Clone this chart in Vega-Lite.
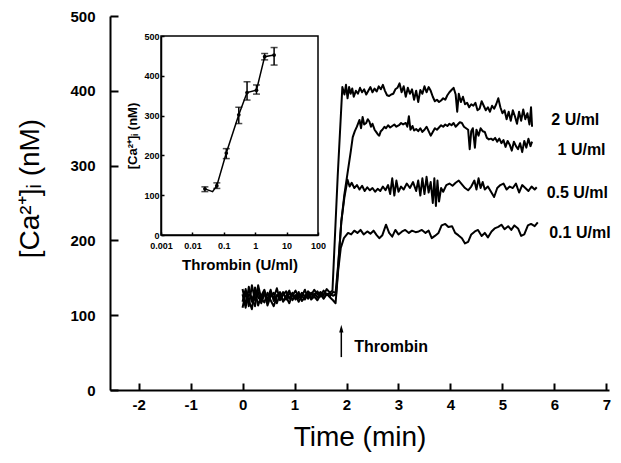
{
"$schema": "https://vega.github.io/schema/vega-lite/v6.json",
"width": 499, "height": 374,
"autosize": "none",
"padding": {"left": 110, "top": 16, "right": 12, "bottom": 73},
"background": "white",
"config": {"view": {"stroke": null}, "font": "Liberation Sans",
  "axis": {"grid": false, "domainColor": "black", "tickColor": "black", "labelColor": "black", "titleColor": "black"}},
"datasets": {
"traces": [
{"s":"A","t":0,"v":118},{"s":"A","t":0.06,"v":135},{"s":"A","t":0.12,"v":112},{"s":"A","t":0.18,"v":140},{"s":"A","t":0.24,"v":120},{"s":"A","t":0.30,"v":131},{"s":"A","t":0.36,"v":116},{"s":"A","t":0.42,"v":128},{"s":"A","t":0.48,"v":122},{"s":"A","t":0.54,"v":134},{"s":"A","t":0.60,"v":119},{"s":"A","t":0.66,"v":127},{"s":"A","t":0.72,"v":124},{"s":"A","t":0.78,"v":131},{"s":"A","t":0.84,"v":121},{"s":"A","t":0.90,"v":129},{"s":"A","t":0.96,"v":126},{"s":"A","t":1.02,"v":133},{"s":"A","t":1.08,"v":123},{"s":"A","t":1.14,"v":130},{"s":"A","t":1.20,"v":125},{"s":"A","t":1.26,"v":132},{"s":"A","t":1.32,"v":127},{"s":"A","t":1.38,"v":134},{"s":"A","t":1.44,"v":128},{"s":"A","t":1.50,"v":131},{"s":"A","t":1.56,"v":127},{"s":"A","t":1.62,"v":135},{"s":"A","t":1.68,"v":130},{"s":"A","t":1.73,"v":133},{"s":"A","t":1.83,"v":285},{"s":"A","t":1.92,"v":405},
{"s":"A","t":1.96,"v":395},{"s":"A","t":1.99,"v":408},{"s":"A","t":2.02,"v":390},{"s":"A","t":2.05,"v":405},{"s":"A","t":2.08,"v":396},{"s":"A","t":2.11,"v":403},{"s":"A","t":2.14,"v":392},{"s":"A","t":2.18,"v":400},{"s":"A","t":2.22,"v":396},{"s":"A","t":2.26,"v":404},{"s":"A","t":2.30,"v":398},{"s":"A","t":2.34,"v":402},{"s":"A","t":2.38,"v":395},{"s":"A","t":2.42,"v":400},{"s":"A","t":2.46,"v":405},{"s":"A","t":2.50,"v":398},{"s":"A","t":2.54,"v":403},{"s":"A","t":2.58,"v":399},{"s":"A","t":2.62,"v":406},{"s":"A","t":2.66,"v":402},{"s":"A","t":2.70,"v":408},{"s":"A","t":2.74,"v":400},{"s":"A","t":2.78,"v":394},{"s":"A","t":2.82,"v":393},{"s":"A","t":2.86,"v":395},{"s":"A","t":2.90,"v":396},{"s":"A","t":2.94,"v":402},{"s":"A","t":2.98,"v":404},{"s":"A","t":3.02,"v":410},{"s":"A","t":3.06,"v":398},{"s":"A","t":3.10,"v":406},{"s":"A","t":3.14,"v":392},{"s":"A","t":3.18,"v":404},{"s":"A","t":3.22,"v":396},{"s":"A","t":3.26,"v":402},{"s":"A","t":3.30,"v":388},{"s":"A","t":3.34,"v":400},{"s":"A","t":3.38,"v":385},{"s":"A","t":3.42,"v":401},{"s":"A","t":3.46,"v":396},{"s":"A","t":3.50,"v":406},{"s":"A","t":3.54,"v":398},{"s":"A","t":3.58,"v":405},{"s":"A","t":3.62,"v":400},{"s":"A","t":3.66,"v":392},{"s":"A","t":3.70,"v":386},{"s":"A","t":3.74,"v":388},{"s":"A","t":3.78,"v":385},{"s":"A","t":3.82,"v":387},{"s":"A","t":3.86,"v":390},{"s":"A","t":3.90,"v":388},{"s":"A","t":3.94,"v":394},{"s":"A","t":3.98,"v":398},{"s":"A","t":4.02,"v":401},{"s":"A","t":4.06,"v":404},{"s":"A","t":4.10,"v":395},{"s":"A","t":4.13,"v":372},{"s":"A","t":4.16,"v":396},{"s":"A","t":4.20,"v":385},{"s":"A","t":4.24,"v":392},{"s":"A","t":4.28,"v":382},{"s":"A","t":4.32,"v":384},{"s":"A","t":4.36,"v":378},{"s":"A","t":4.40,"v":382},{"s":"A","t":4.44,"v":380},{"s":"A","t":4.48,"v":384},{"s":"A","t":4.52,"v":374},{"s":"A","t":4.56,"v":376},{"s":"A","t":4.60,"v":386},{"s":"A","t":4.64,"v":380},{"s":"A","t":4.68,"v":374},{"s":"A","t":4.72,"v":378},{"s":"A","t":4.76,"v":372},{"s":"A","t":4.80,"v":380},{"s":"A","t":4.84,"v":376},{"s":"A","t":4.88,"v":382},{"s":"A","t":4.92,"v":390},{"s":"A","t":4.96,"v":378},{"s":"A","t":5.00,"v":370},{"s":"A","t":5.04,"v":374},{"s":"A","t":5.08,"v":362},{"s":"A","t":5.12,"v":372},{"s":"A","t":5.16,"v":360},{"s":"A","t":5.20,"v":374},{"s":"A","t":5.24,"v":366},{"s":"A","t":5.28,"v":356},{"s":"A","t":5.32,"v":372},{"s":"A","t":5.36,"v":360},{"s":"A","t":5.40,"v":375},{"s":"A","t":5.44,"v":362},{"s":"A","t":5.48,"v":370},{"s":"A","t":5.52,"v":355},{"s":"A","t":5.55,"v":378},{"s":"A","t":5.57,"v":352},
{"s":"B","t":0,"v":128},{"s":"B","t":0.06,"v":110},{"s":"B","t":0.12,"v":138},{"s":"B","t":0.18,"v":118},{"s":"B","t":0.24,"v":133},{"s":"B","t":0.30,"v":113},{"s":"B","t":0.36,"v":126},{"s":"B","t":0.42,"v":134},{"s":"B","t":0.48,"v":117},{"s":"B","t":0.54,"v":129},{"s":"B","t":0.60,"v":123},{"s":"B","t":0.66,"v":136},{"s":"B","t":0.72,"v":120},{"s":"B","t":0.78,"v":127},{"s":"B","t":0.84,"v":132},{"s":"B","t":0.90,"v":122},{"s":"B","t":0.96,"v":130},{"s":"B","t":1.02,"v":121},{"s":"B","t":1.08,"v":128},{"s":"B","t":1.14,"v":125},{"s":"B","t":1.20,"v":134},{"s":"B","t":1.26,"v":122},{"s":"B","t":1.32,"v":130},{"s":"B","t":1.38,"v":126},{"s":"B","t":1.44,"v":132},{"s":"B","t":1.50,"v":125},{"s":"B","t":1.56,"v":133},{"s":"B","t":1.62,"v":127},{"s":"B","t":1.68,"v":129},{"s":"B","t":1.74,"v":126},{"s":"B","t":1.80,"v":128},{"s":"B","t":1.84,"v":165},{"s":"B","t":1.90,"v":225},{"s":"B","t":1.96,"v":262},{"s":"B","t":2.02,"v":290},{"s":"B","t":2.08,"v":318},{"s":"B","t":2.12,"v":338},{"s":"B","t":2.16,"v":346},{"s":"B","t":2.20,"v":352},
{"s":"B","t":2.25,"v":361},{"s":"B","t":2.28,"v":350},{"s":"B","t":2.31,"v":365},{"s":"B","t":2.34,"v":355},{"s":"B","t":2.38,"v":357},{"s":"B","t":2.41,"v":362},{"s":"B","t":2.44,"v":359},{"s":"B","t":2.47,"v":352},{"s":"B","t":2.50,"v":356},{"s":"B","t":2.54,"v":348},{"s":"B","t":2.57,"v":345},{"s":"B","t":2.60,"v":342},{"s":"B","t":2.63,"v":340},{"s":"B","t":2.66,"v":346},{"s":"B","t":2.69,"v":348},{"s":"B","t":2.73,"v":352},{"s":"B","t":2.76,"v":350},{"s":"B","t":2.80,"v":354},{"s":"B","t":2.84,"v":351},{"s":"B","t":2.88,"v":353},{"s":"B","t":2.92,"v":355},{"s":"B","t":2.96,"v":352},{"s":"B","t":3.01,"v":354},{"s":"B","t":3.05,"v":357},{"s":"B","t":3.09,"v":355},{"s":"B","t":3.14,"v":357},{"s":"B","t":3.17,"v":352},{"s":"B","t":3.20,"v":366},{"s":"B","t":3.23,"v":348},{"s":"B","t":3.27,"v":353},{"s":"B","t":3.30,"v":347},{"s":"B","t":3.34,"v":349},{"s":"B","t":3.38,"v":346},{"s":"B","t":3.42,"v":350},{"s":"B","t":3.46,"v":345},{"s":"B","t":3.50,"v":348},{"s":"B","t":3.54,"v":352},{"s":"B","t":3.58,"v":346},{"s":"B","t":3.62,"v":340},{"s":"B","t":3.66,"v":345},{"s":"B","t":3.70,"v":350},{"s":"B","t":3.74,"v":348},{"s":"B","t":3.78,"v":351},{"s":"B","t":3.82,"v":354},{"s":"B","t":3.86,"v":352},{"s":"B","t":3.90,"v":355},{"s":"B","t":3.94,"v":353},{"s":"B","t":3.98,"v":356},{"s":"B","t":4.02,"v":354},{"s":"B","t":4.06,"v":357},{"s":"B","t":4.10,"v":352},{"s":"B","t":4.14,"v":355},{"s":"B","t":4.18,"v":358},{"s":"B","t":4.22,"v":357},{"s":"B","t":4.26,"v":352},{"s":"B","t":4.30,"v":350},{"s":"B","t":4.34,"v":348},{"s":"B","t":4.37,"v":322},{"s":"B","t":4.40,"v":346},{"s":"B","t":4.43,"v":350},{"s":"B","t":4.47,"v":324},{"s":"B","t":4.50,"v":348},{"s":"B","t":4.54,"v":340},{"s":"B","t":4.58,"v":350},{"s":"B","t":4.62,"v":346},{"s":"B","t":4.66,"v":345},{"s":"B","t":4.70,"v":337},{"s":"B","t":4.74,"v":335},{"s":"B","t":4.78,"v":336},{"s":"B","t":4.82,"v":334},{"s":"B","t":4.86,"v":337},{"s":"B","t":4.90,"v":332},{"s":"B","t":4.94,"v":336},{"s":"B","t":4.98,"v":330},{"s":"B","t":5.02,"v":334},{"s":"B","t":5.06,"v":325},{"s":"B","t":5.10,"v":333},{"s":"B","t":5.14,"v":328},{"s":"B","t":5.18,"v":320},{"s":"B","t":5.22,"v":332},{"s":"B","t":5.26,"v":326},{"s":"B","t":5.30,"v":322},{"s":"B","t":5.34,"v":330},{"s":"B","t":5.38,"v":318},{"s":"B","t":5.42,"v":333},{"s":"B","t":5.46,"v":324},{"s":"B","t":5.50,"v":336},{"s":"B","t":5.54,"v":326},{"s":"B","t":5.57,"v":332},
{"s":"C","t":0,"v":110},{"s":"C","t":0.06,"v":130},{"s":"C","t":0.12,"v":120},{"s":"C","t":0.18,"v":108},{"s":"C","t":0.24,"v":137},{"s":"C","t":0.30,"v":124},{"s":"C","t":0.36,"v":119},{"s":"C","t":0.42,"v":132},{"s":"C","t":0.48,"v":113},{"s":"C","t":0.54,"v":125},{"s":"C","t":0.60,"v":130},{"s":"C","t":0.66,"v":116},{"s":"C","t":0.72,"v":128},{"s":"C","t":0.78,"v":119},{"s":"C","t":0.84,"v":126},{"s":"C","t":0.90,"v":133},{"s":"C","t":0.96,"v":120},{"s":"C","t":1.02,"v":127},{"s":"C","t":1.08,"v":118},{"s":"C","t":1.14,"v":126},{"s":"C","t":1.20,"v":121},{"s":"C","t":1.26,"v":128},{"s":"C","t":1.32,"v":123},{"s":"C","t":1.38,"v":129},{"s":"C","t":1.44,"v":124},{"s":"C","t":1.50,"v":130},{"s":"C","t":1.56,"v":122},{"s":"C","t":1.62,"v":128},{"s":"C","t":1.68,"v":125},{"s":"C","t":1.74,"v":131},{"s":"C","t":1.79,"v":130},{"s":"C","t":1.84,"v":168},{"s":"C","t":1.90,"v":225},{"s":"C","t":1.96,"v":258},
{"s":"C","t":2.02,"v":281},{"s":"C","t":2.06,"v":272},{"s":"C","t":2.10,"v":277},{"s":"C","t":2.15,"v":270},{"s":"C","t":2.20,"v":274},{"s":"C","t":2.25,"v":268},{"s":"C","t":2.30,"v":273},{"s":"C","t":2.35,"v":266},{"s":"C","t":2.40,"v":271},{"s":"C","t":2.45,"v":267},{"s":"C","t":2.50,"v":270},{"s":"C","t":2.55,"v":265},{"s":"C","t":2.60,"v":269},{"s":"C","t":2.65,"v":266},{"s":"C","t":2.70,"v":272},{"s":"C","t":2.75,"v":267},{"s":"C","t":2.80,"v":274},{"s":"C","t":2.84,"v":262},{"s":"C","t":2.88,"v":283},{"s":"C","t":2.92,"v":260},{"s":"C","t":2.96,"v":280},{"s":"C","t":3.00,"v":265},{"s":"C","t":3.05,"v":272},{"s":"C","t":3.10,"v":268},{"s":"C","t":3.16,"v":276},{"s":"C","t":3.22,"v":270},{"s":"C","t":3.28,"v":278},{"s":"C","t":3.34,"v":266},{"s":"C","t":3.38,"v":280},{"s":"C","t":3.42,"v":260},{"s":"C","t":3.46,"v":283},{"s":"C","t":3.50,"v":262},{"s":"C","t":3.54,"v":285},{"s":"C","t":3.58,"v":264},{"s":"C","t":3.62,"v":278},{"s":"C","t":3.66,"v":250},{"s":"C","t":3.69,"v":283},{"s":"C","t":3.72,"v":246},{"s":"C","t":3.75,"v":280},{"s":"C","t":3.78,"v":252},{"s":"C","t":3.82,"v":270},{"s":"C","t":3.86,"v":265},{"s":"C","t":3.92,"v":274},{"s":"C","t":3.98,"v":276},{"s":"C","t":4.04,"v":273},{"s":"C","t":4.10,"v":277},{"s":"C","t":4.16,"v":280},{"s":"C","t":4.22,"v":275},{"s":"C","t":4.28,"v":270},{"s":"C","t":4.34,"v":267},{"s":"C","t":4.40,"v":272},{"s":"C","t":4.46,"v":280},{"s":"C","t":4.50,"v":268},{"s":"C","t":4.54,"v":283},{"s":"C","t":4.58,"v":270},{"s":"C","t":4.62,"v":278},{"s":"C","t":4.66,"v":268},{"s":"C","t":4.72,"v":272},{"s":"C","t":4.78,"v":265},{"s":"C","t":4.84,"v":258},{"s":"C","t":4.90,"v":270},{"s":"C","t":4.96,"v":274},{"s":"C","t":5.02,"v":276},{"s":"C","t":5.08,"v":268},{"s":"C","t":5.14,"v":272},{"s":"C","t":5.20,"v":270},{"s":"C","t":5.26,"v":276},{"s":"C","t":5.32,"v":264},{"s":"C","t":5.38,"v":274},{"s":"C","t":5.44,"v":270},{"s":"C","t":5.50,"v":266},{"s":"C","t":5.56,"v":272},{"s":"C","t":5.62,"v":268},{"s":"C","t":5.66,"v":271},
{"s":"D","t":0,"v":135},{"s":"D","t":0.06,"v":115},{"s":"D","t":0.12,"v":128},{"s":"D","t":0.18,"v":124},{"s":"D","t":0.24,"v":112},{"s":"D","t":0.30,"v":140},{"s":"D","t":0.36,"v":122},{"s":"D","t":0.42,"v":117},{"s":"D","t":0.48,"v":130},{"s":"D","t":0.54,"v":120},{"s":"D","t":0.60,"v":112},{"s":"D","t":0.66,"v":125},{"s":"D","t":0.72,"v":131},{"s":"D","t":0.78,"v":118},{"s":"D","t":0.84,"v":124},{"s":"D","t":0.90,"v":116},{"s":"D","t":0.96,"v":128},{"s":"D","t":1.02,"v":122},{"s":"D","t":1.08,"v":131},{"s":"D","t":1.14,"v":119},{"s":"D","t":1.20,"v":124},{"s":"D","t":1.26,"v":129},{"s":"D","t":1.32,"v":121},{"s":"D","t":1.38,"v":125},{"s":"D","t":1.44,"v":120},{"s":"D","t":1.50,"v":127},{"s":"D","t":1.56,"v":123},{"s":"D","t":1.62,"v":129},{"s":"D","t":1.68,"v":124},{"s":"D","t":1.74,"v":120},{"s":"D","t":1.79,"v":116},{"s":"D","t":1.84,"v":160},{"s":"D","t":1.89,"v":190},{"s":"D","t":1.95,"v":203},{"s":"D","t":2.03,"v":210},
{"s":"D","t":2.09,"v":208},{"s":"D","t":2.15,"v":213},{"s":"D","t":2.21,"v":210},{"s":"D","t":2.27,"v":214},{"s":"D","t":2.33,"v":208},{"s":"D","t":2.40,"v":212},{"s":"D","t":2.46,"v":209},{"s":"D","t":2.52,"v":213},{"s":"D","t":2.58,"v":207},{"s":"D","t":2.63,"v":203},{"s":"D","t":2.69,"v":207},{"s":"D","t":2.76,"v":221},{"s":"D","t":2.82,"v":210},{"s":"D","t":2.88,"v":205},{"s":"D","t":2.94,"v":214},{"s":"D","t":3.00,"v":208},{"s":"D","t":3.07,"v":212},{"s":"D","t":3.13,"v":214},{"s":"D","t":3.20,"v":210},{"s":"D","t":3.26,"v":213},{"s":"D","t":3.33,"v":211},{"s":"D","t":3.39,"v":212},{"s":"D","t":3.45,"v":214},{"s":"D","t":3.52,"v":210},{"s":"D","t":3.58,"v":213},{"s":"D","t":3.64,"v":203},{"s":"D","t":3.70,"v":206},{"s":"D","t":3.77,"v":210},{"s":"D","t":3.83,"v":220},{"s":"D","t":3.90,"v":222},{"s":"D","t":3.96,"v":218},{"s":"D","t":4.03,"v":219},{"s":"D","t":4.09,"v":210},{"s":"D","t":4.15,"v":207},{"s":"D","t":4.22,"v":203},{"s":"D","t":4.28,"v":196},{"s":"D","t":4.34,"v":198},{"s":"D","t":4.40,"v":208},{"s":"D","t":4.47,"v":212},{"s":"D","t":4.53,"v":214},{"s":"D","t":4.60,"v":206},{"s":"D","t":4.66,"v":210},{"s":"D","t":4.72,"v":204},{"s":"D","t":4.79,"v":212},{"s":"D","t":4.85,"v":216},{"s":"D","t":4.92,"v":218},{"s":"D","t":4.98,"v":221},{"s":"D","t":5.04,"v":215},{"s":"D","t":5.11,"v":219},{"s":"D","t":5.17,"v":214},{"s":"D","t":5.23,"v":220},{"s":"D","t":5.30,"v":216},{"s":"D","t":5.36,"v":206},{"s":"D","t":5.42,"v":208},{"s":"D","t":5.49,"v":220},{"s":"D","t":5.55,"v":222},{"s":"D","t":5.62,"v":219},{"s":"D","t":5.68,"v":224}
],
"labels": [
{"lab":"2 U/ml","t":5.94,"v":361},
{"lab":"1 U/ml","t":6.06,"v":321},
{"lab":"0.5 U/ml","t":5.85,"v":263},
{"lab":"0.1 U/ml","t":5.9,"v":210}
],
"arrow": [{"t":1.9,"v":44,"v2":82,"lab":"Thrombin","tt":2.15,"tv":58}],
"insetline": [
{"dose":0.025,"ca":116},{"dose":0.044,"ca":109},{"dose":0.06,"ca":124},{"dose":0.12,"ca":206},{"dose":0.3,"ca":302},{"dose":0.55,"ca":358},{"dose":1.1,"ca":364},{"dose":2,"ca":448},{"dose":4,"ca":452}
],
"insetpts": [
{"dose":0.025,"ca":116,"lo":109,"hi":121},
{"dose":0.06,"ca":124,"lo":117,"hi":131},
{"dose":0.12,"ca":206,"lo":192,"hi":217},
{"dose":0.3,"ca":302,"lo":280,"hi":321},
{"dose":0.55,"ca":358,"lo":339,"hi":385},
{"dose":1.1,"ca":364,"lo":354,"hi":377},
{"dose":2,"ca":448,"lo":440,"hi":456},
{"dose":4,"ca":452,"lo":427,"hi":471}
]
},
"layer": [
{
"layer": [
{
"data": {"name": "traces"},
"mark": {"type": "line", "color": "black", "strokeWidth": 2, "strokeJoin": "round"},
"encoding": {
"x": {"field": "t", "type": "quantitative", "scale": {"domain": [-2.55, 7.05], "nice": false, "zero": false},
  "axis": {"title": "Time (min)", "orient": "bottom", "values": [-2,-1.5,-1,-0.5,0,0.5,1,1.5,2,2.5,3,3.5,4,4.5,5,5.5,6,6.5,7],
    "labelExpr": "datum.value % 1 === 0 ? '' + datum.value : ''",
    "tickSize": {"condition": {"test": "datum.value % 1 === 0", "value": -7}, "value": -4},
    "tickWidth": 2, "domainWidth": 2, "labelFontSize": 15, "labelFontWeight": "bold", "labelPadding": 14,
    "titleFontSize": 28, "titleFontWeight": "normal", "titlePadding": 11}},
"y": {"field": "v", "type": "quantitative", "scale": {"domain": [0, 500], "nice": false},
  "axis": {"title": "[Ca²⁺]ᵢ  (nM)", "orient": "left", "values": [0,50,100,150,200,250,300,350,400,450,500],
    "labelExpr": "datum.value % 100 === 0 ? '' + datum.value : ''",
    "tickSize": {"condition": {"test": "datum.value % 100 === 0", "value": -8}, "value": -5},
    "tickWidth": 2, "domainWidth": 2, "labelFontSize": 15, "labelFontWeight": "bold", "labelPadding": 23,
    "titleFontSize": 28, "titleFontWeight": "normal", "titleX": -66, "titleY": 172}},
"detail": {"field": "s"}
}
},
{
"data": {"name": "labels"},
"mark": {"type": "text", "align": "left", "baseline": "middle", "fontSize": 16, "fontWeight": "bold", "color": "black"},
"encoding": {"x": {"field": "t", "type": "quantitative"}, "y": {"field": "v", "type": "quantitative"}, "text": {"field": "lab"}}
},
{
"data": {"name": "arrow"},
"mark": {"type": "rule", "color": "black", "strokeWidth": 1.5},
"encoding": {"x": {"field": "t", "type": "quantitative"}, "y": {"field": "v", "type": "quantitative"}, "y2": {"field": "v2"}}
},
{
"data": {"name": "arrow"},
"mark": {"type": "point", "shape": "M0,-1L0.55,1L-0.55,1Z", "filled": true, "color": "black", "opacity": 1, "size": 60},
"encoding": {"x": {"field": "t", "type": "quantitative"}, "y": {"field": "v2", "type": "quantitative"}}
},
{
"data": {"name": "arrow"},
"mark": {"type": "text", "align": "left", "baseline": "middle", "fontSize": 16, "fontWeight": "bold", "color": "black"},
"encoding": {"x": {"field": "tt", "type": "quantitative"}, "y": {"field": "tv", "type": "quantitative"}, "text": {"field": "lab"}}
}
]
},
{
"layer": [
{
"data": {"name": "insetline"},
"mark": {"type": "line", "color": "black", "strokeWidth": 1.5},
"encoding": {
"x": {"field": "dose", "type": "quantitative", "title": "Thrombin (U/ml)", "scale": {"type": "log", "domain": [0.001, 100], "range": [51, 208], "nice": false},
  "axis": {"title": "Thrombin (U/ml)", "orient": "bottom", "offset": -155, "values": [0.001,0.01,0.1,1,10,100],
    "labelExpr": "'' + datum.value", "tickSize": -3, "tickWidth": 1.5, "domainWidth": 1.5,
    "labelFontSize": 9, "labelFontWeight": "bold", "labelPadding": 9, "labelFlush": false,
    "titleFontSize": 15, "titleFontWeight": "bold", "titlePadding": 7}},
"y": {"field": "ca", "type": "quantitative", "title": "[Ca²⁺]ᵢ (nM)", "scale": {"domain": [0, 500], "range": [219, 20], "nice": false},
  "axis": {"title": "[Ca²⁺]ᵢ (nM)", "orient": "left", "offset": -51, "values": [0,100,200,300,400,500],
    "tickSize": -3, "tickWidth": 1.5, "domainWidth": 1.5,
    "labelFontSize": 9, "labelFontWeight": "bold", "labelPadding": 5,
    "titleFontSize": 13, "titleFontWeight": "bold", "titlePadding": 4}}
}
},
{
"data": {"name": "insetpts"},
"mark": {"type": "errorbar", "ticks": {"size": 7}, "thickness": 1.5, "color": "black"},
"encoding": {"x": {"field": "dose", "type": "quantitative", "title": "Thrombin (U/ml)"}, "y": {"field": "lo", "type": "quantitative", "title": "[Ca²⁺]ᵢ (nM)"}, "y2": {"field": "hi"}}
},
{
"data": {"name": "insetpts"},
"mark": {"type": "point", "filled": true, "color": "black", "opacity": 1, "size": 14},
"encoding": {"x": {"field": "dose", "type": "quantitative", "title": "Thrombin (U/ml)"}, "y": {"field": "ca", "type": "quantitative", "title": "[Ca²⁺]ᵢ (nM)"}}
},
{
"data": {"values": [{}]},
"mark": {"type": "rect", "fillOpacity": 0, "stroke": "black", "strokeWidth": 1.5},
"encoding": {"x": {"datum": 0.001, "type": "quantitative", "title": "Thrombin (U/ml)"}, "x2": {"datum": 100}, "y": {"datum": 0, "type": "quantitative", "title": "[Ca²⁺]ᵢ (nM)"}, "y2": {"datum": 500}}
}
]
}
],
"resolve": {"scale": {"x": "independent", "y": "independent"}, "axis": {"x": "independent", "y": "independent"}}
}
